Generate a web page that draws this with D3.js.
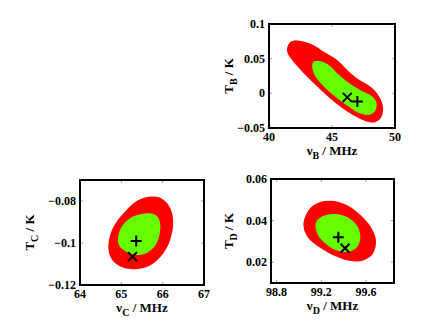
<!DOCTYPE html>
<html>
<head>
<meta charset="utf-8">
<script src="https://cdn.jsdelivr.net/npm/d3@7"></script>
<style>
  body { margin: 0; background: #fff; }
  text { font-family: "Liberation Serif", "Times New Roman", serif; font-weight: bold; }
</style>
</head>
<body>
<div id="chart"></div>
<script>
// ---- data ----
// panel B : nu_B [MHz] vs T_B [K]
const outerB = [[41.45,0.0664],[41.77,0.0750],[42.43,0.0759],[43.36,0.0711],[44.42,0.0591],[45.48,0.0471],
    [46.27,0.0327],[47.06,0.0206],[48.12,0.0086],[48.78,-0.0058],[49.05,-0.0202],[48.91,-0.0346],
    [48.39,-0.0419],[47.59,-0.0395],[46.53,-0.0299],[45.21,-0.0130],[43.89,0.0086],[42.56,0.0327],
    [41.77,0.0495],[41.45,0.0591]];
const innerB = [[43.44,0.0423],[43.63,0.0461],[44.15,0.0461],[44.81,0.0399],[45.48,0.0278],[46.27,0.0159],
    [47.33,0.0038],[48.12,-0.0034],[48.52,-0.0130],[48.44,-0.0251],[47.99,-0.0309],[47.20,-0.0289],
    [46.40,-0.0202],[45.48,-0.0082],[44.55,0.0062],[43.83,0.0206],[43.49,0.0327]];
const crossB = [46.21, -0.0058];
const plusB = [47.01, -0.0116];
const xTicksB = [40, 45, 50];
const yTicksB = [-0.05, 0, 0.05, 0.1];

// panel C
const outerC = [[65.67,-0.0780],[65.91,-0.0782],[66.11,-0.0811],[66.23,-0.0859],[66.25,-0.0922],[66.15,-0.1002],
    [65.95,-0.1065],[65.67,-0.1110],[65.35,-0.1125],[65.02,-0.1116],[64.78,-0.1081],[64.69,-0.1033],
    [64.72,-0.0970],[64.86,-0.0906],[65.11,-0.0846],[65.39,-0.0798]];
const innerC = [[65.59,-0.0859],[65.83,-0.0867],[65.93,-0.0898],[65.93,-0.0954],[65.83,-0.1010],[65.63,-0.1046],
    [65.35,-0.1057],[65.11,-0.1041],[64.94,-0.1010],[64.93,-0.0962],[65.04,-0.0914],[65.27,-0.0875]];
const crossC = [65.27, -0.1065];
const plusC = [65.36, -0.0990];
const xTicksC = [64, 65, 66, 67];
const yTicksC = [-0.12, -0.1, -0.08];

// panel D
const outerD = [[99.048,0.0408],[99.108,0.0464],[99.197,0.0491],[99.316,0.0494],[99.436,0.0472],[99.555,0.0424],
    [99.644,0.0368],[99.689,0.0303],[99.660,0.0239],[99.570,0.0207],[99.450,0.0207],[99.316,0.0231],
    [99.182,0.0272],[99.078,0.0320],[99.042,0.0368]];
const innerD = [[99.152,0.0392],[99.212,0.0421],[99.316,0.0432],[99.436,0.0416],[99.519,0.0376],[99.549,0.0320],
    [99.519,0.0272],[99.450,0.0251],[99.347,0.0255],[99.242,0.0288],[99.164,0.0336]];
const crossD = [99.412, 0.0267];
const plusD = [99.352, 0.0320];
const xTicksD = [98.8, 99.2, 99.6];
const yTicksD = [0.02, 0.04, 0.06];

const width = 436, height = 328;
const red = "#ff0000", green = "#66ff00";

const svg = d3.select("#chart").append("svg")
    .attr("width", width)
    .attr("height", height);

function fmt(v) {
    return String(+v.toFixed(4)).replace("-", "\u2212");
}

function drawPanel(p) {
    const x = d3.scaleLinear().domain(p.xDomain).range([p.left, p.right]);
    const y = d3.scaleLinear().domain(p.yDomain).range([p.bottom, p.top]);
    const g = svg.append("g");

    const line = d3.line()
        .x(d => x(d[0]))
        .y(d => y(d[1]))
        .curve(d3.curveCatmullRomClosed.alpha(0.5));

    g.append("path").attr("d", line(p.outer)).attr("fill", red);
    g.append("path").attr("d", line(p.inner)).attr("fill", green);

    // markers
    const s = 4.5;
    g.append("path")
        .attr("d", `M${x(p.plus[0]) - s - 1},${y(p.plus[1])}h${2 * s + 2}M${x(p.plus[0])},${y(p.plus[1]) - s - 1}v${2 * s + 2}`)
        .attr("stroke", "#000").attr("stroke-width", 2).attr("fill", "none");
    g.append("path")
        .attr("d", `M${x(p.cross[0]) - s},${y(p.cross[1]) - s}l${2 * s},${2 * s}M${x(p.cross[0]) + s},${y(p.cross[1]) - s}l${-2 * s},${2 * s}`)
        .attr("stroke", "#000").attr("stroke-width", 2).attr("fill", "none");

    // inward ticks on all four sides
    const tl = 3;
    g.selectAll(null).data(p.xTicks).join("path")
        .attr("d", d => `M${x(d)},${p.bottom}v${-tl}M${x(d)},${p.top}v${tl}`)
        .attr("stroke", "#888").attr("stroke-width", 0.8);
    g.selectAll(null).data(p.yTicks).join("path")
        .attr("d", d => `M${p.left},${y(d)}h${tl}M${p.right},${y(d)}h${-tl}`)
        .attr("stroke", "#888").attr("stroke-width", 0.8);

    // frame
    g.append("rect")
        .attr("x", p.left).attr("y", p.top)
        .attr("width", p.right - p.left).attr("height", p.bottom - p.top)
        .attr("fill", "none").attr("stroke", "#000").attr("stroke-width", 2);

    // tick labels
    g.selectAll(null).data(p.xTicks).join("text")
        .attr("x", d => x(d)).attr("y", p.bottom + 13)
        .attr("text-anchor", "middle").attr("font-size", 12)
        .text(fmt);
    g.selectAll(null).data(p.yTicks).join("text")
        .attr("x", p.left - 4).attr("y", d => y(d) + 4)
        .attr("text-anchor", "end").attr("font-size", 12)
        .text(fmt);

    // axis labels
    const xl = g.append("text")
        .attr("x", (p.left + p.right) / 2).attr("y", p.bottom + 27)
        .attr("text-anchor", "middle").attr("font-size", 13);
    xl.append("tspan").text("\u03bd");
    xl.append("tspan").attr("dy", 4).attr("font-size", 10).text(p.sub);
    xl.append("tspan").attr("dy", -4).text(" / MHz");

    const yl = g.append("text")
        .attr("transform", `translate(${p.ylabelX},${(p.top + p.bottom) / 2}) rotate(-90)`)
        .attr("text-anchor", "middle").attr("font-size", 13);
    yl.append("tspan").text("T");
    yl.append("tspan").attr("dy", 4).attr("font-size", 10).text(p.sub);
    yl.append("tspan").attr("dy", -4).text(" / K");
}

drawPanel({ sub: "B", left: 269, right: 395, top: 24, bottom: 128, ylabelX: 233,
    xDomain: [40, 50], yDomain: [-0.05, 0.1],
    outer: outerB, inner: innerB, cross: crossB, plus: plusB, xTicks: xTicksB, yTicks: yTicksB });
drawPanel({ sub: "C", left: 80, right: 204, top: 180, bottom: 285, ylabelX: 34,
    xDomain: [64, 67], yDomain: [-0.12, -0.07],
    outer: outerC, inner: innerC, cross: crossC, plus: plusC, xTicks: xTicksC, yTicks: yTicksC });
drawPanel({ sub: "D", left: 271, right: 394, top: 179, bottom: 283, ylabelX: 233,
    xDomain: [98.75, 99.85], yDomain: [0.01, 0.06],
    outer: outerD, inner: innerD, cross: crossD, plus: plusD, xTicks: xTicksD, yTicks: yTicksD });
</script>
</body>
</html>
